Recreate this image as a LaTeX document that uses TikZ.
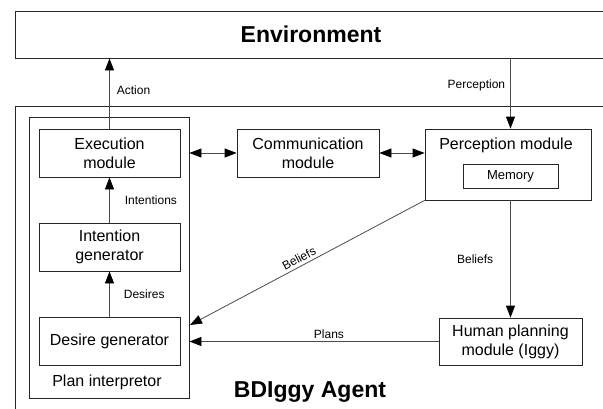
\documentclass[tikz,border=0pt]{standalone}
\usepackage{fontspec}
\setmainfont{Liberation Sans}
\usetikzlibrary{arrows.meta,positioning}

\tikzset{
  >={Triangle[length=12pt,width=9pt,fill=black,color=black]},
  box/.style={draw=black!85,line width=0.8pt,inner sep=0pt,align=center,font=\fontsize{16}{19}\selectfont},
  module/.style={box,minimum width=141,minimum height=48},
  flow/.style={draw=black!70,line width=0.8pt,->},
  both/.style={flow,<->},
  tag/.style={font=\fontsize{12}{14}\selectfont,inner sep=1pt},
  title/.style={font=\fontsize{23}{27}\selectfont\bfseries}
}

\begin{document}
\begin{tikzpicture}[x=1pt,y=-1pt]
\useasboundingbox (0,0) rectangle (603,408);

% outer frames, cut by the page on the right
\node[box,title,minimum width=592,minimum height=47] (env) at (311,34.5) {Environment};
\node[box,minimum width=592,minimum height=320] (agent) at (311,266) {};
\node[title] (agentname) at (310,392) {BDIggy Agent};

% plan interpretor and its generators
\node[box,minimum width=160,minimum height=281] (plan) at (109,257.5) {};
\node[box,draw=none] (planname) at (107,382) {Plan interpretor};
\node[module] (exec) at (109.5,153) {Execution\\module};
\node[module] (intent) at (109.5,247) {Intention\\generator};
\node[module] (desire) at (109.5,341.5) {Desire generator};

% remaining modules
\node[module,minimum width=142] (comm) at (308,153) {Communication\\module};
\node[box,minimum width=166,minimum height=71] (perc) at (508,164.5) {};
\node[box,draw=none] (percname) at (506,145) {Perception module};
\node[box,font=\fontsize{13}{15}\selectfont,minimum width=95,minimum height=24] (mem) at (510.5,176) {Memory};
\node[module,minimum width=143,minimum height=47] (human) at (510.5,341.5) {Human planning\\module (Iggy)};
\coordinate (bel) at (190,325);

% connectors
\draw[flow] (exec.north) -- (exec.north |- env.south) node[tag,pos=0.55,right=6pt] {Action};
\draw[flow] (env.south -| mem.center) -- (mem.center |- perc.north) node[tag,pos=0.38,left=4pt] {Perception};
\draw[both] (plan.east |- exec.east) -- (comm.west);
\draw[both] (comm.east) -- (perc.west |- comm.east);
\draw[flow] (intent.north) -- (exec.south) node[tag,midway,right=14pt] {Intentions};
\draw[flow] (desire.north) -- (intent.south) node[tag,midway,right=13pt] {Desires};
\draw[flow] (perc.south west) -- (bel) node[tag,pos=0.52,sloped,above=2pt] {Beliefs};
\draw[flow] (mem.center |- perc.south) -- (human.north) node[tag,midway,left=16pt] {Beliefs};
\draw[flow] (human.west) -- (plan.east |- human.west) node[tag,pos=0.44,above=1pt] {Plans};
\end{tikzpicture}
\end{document}
